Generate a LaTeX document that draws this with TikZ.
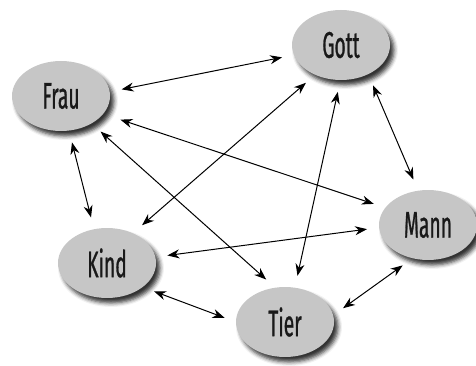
\documentclass[tikz,border=0pt]{standalone}
\usepackage{fontspec}
\setmainfont{Fira Sans}[FakeStretch=0.52, FakeBold=0.7]
\usetikzlibrary{shapes.geometric,shadows.blur,arrows.meta}

\begin{document}
\begin{tikzpicture}[x=1pt,y=1pt,
  being/.style={ellipse, fill=gray!45, minimum width=98pt, minimum height=70pt, inner sep=0pt, text=black!90, font=\fontsize{37}{40}\selectfont, blur shadow={shadow xshift=4pt, shadow yshift=-5pt, shadow blur radius=4pt, shadow opacity=80}},
  link/.style={{Stealth[length=12pt,width=9pt]}-{Stealth[length=12pt,width=9pt]}, line width=1pt, shorten <=12pt, shorten >=12pt}]
\useasboundingbox (0,0) rectangle (476,365);
\node [being] (Frau) at (61,269) {Frau};
\node [being] (Gott) at (341,320) {Gott};
\node [being] (Mann) at (428,140) {Mann};
\node [being] (Kind) at (107,102) {Kind};
\node [being] (Tier) at (285,43) {Tier};
\path [link] (Frau.5) edge (Gott.192);
\path [link, shorten <=18pt] (Frau.-23) edge (Mann.158);
\path [link] (Frau.-42) edge (Tier.106);
\path [link] (Frau.-77) edge (Kind.111);
\path [link] (Gott.229) edge (Kind.49);
\path [link] (Gott.269) edge (Tier.74);
\path [link] (Gott.-47) edge (Mann.106);
\path [link] (Kind.7) edge (Mann.183);
\path [link] (Kind.-34) edge (Tier.180);
\path [link] (Tier.8) edge (Mann.245);
\end{tikzpicture}
\end{document}
